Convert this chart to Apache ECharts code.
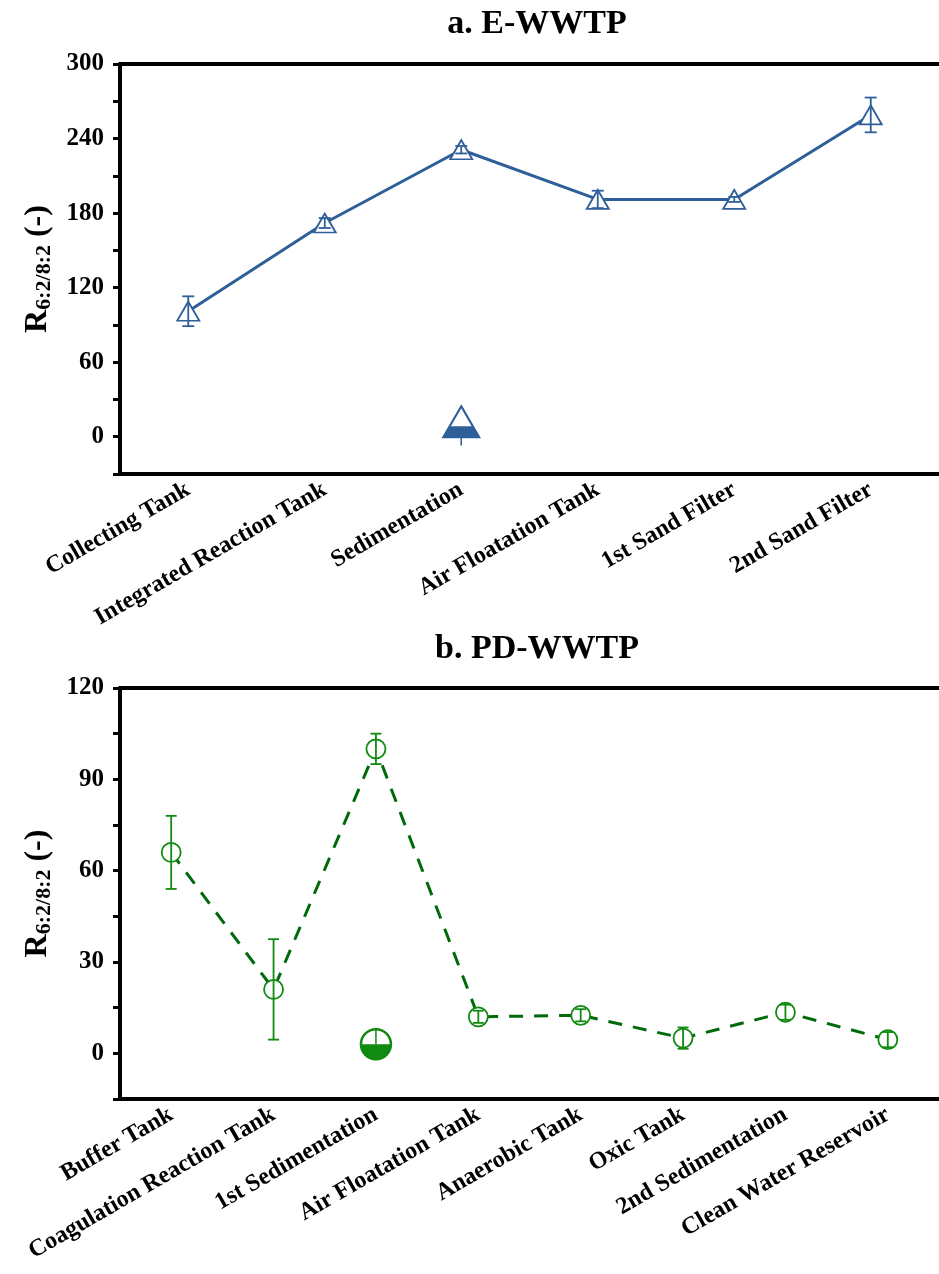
<!DOCTYPE html>
<html>
	<head>
		<meta charset="UTF-8">
		<title>R6:2/8:2</title>
		<script src="https://cdn.jsdelivr.net/npm/echarts@6/dist/echarts.min.js"></script>
		<style>
			html, body { margin: 0; padding: 0; background: #fff; }
			#main { width: 939px; height: 1274px; }
		</style>
	</head>
	<body>
		<div id="main"></div>
		<script>
			// a. E-WWTP
			var topCats = ['Collecting Tank', 'Integrated Reaction Tank', 'Sedimentation', 'Air Floatation Tank', '1st Sand Filter', '2nd Sand Filter'];
			var topMeans = [101, 172, 231, 191, 191, 259];
			var topErr = [12, 4, 3, 7, 2, 14];
			// odd half-filled triangle sitting near 0 under Sedimentation
			var topExtra = [2, 0];

			// b. PD-WWTP
			var botCats = ['Buffer Tank', 'Coagulation Reaction Tank', '1st Sedimentation', 'Air Floatation Tank', 'Anaerobic Tank', 'Oxic Tank', '2nd Sedimentation', 'Clean Water Reservoir'];
			var botMeans = [66, 21, 100, 12, 12.5, 5, 13.5, 4.5];
			var botErr = [12, 16.5, 5, 2, 2, 3.5, 2.5, 2.5];
			// half-filled circle under 1st Sedimentation
			var botExtra = [2, 3];

			var blue = '#2f5f98';
			var green = '#108a10';
			var darkGreen = '#006a0a';
			var font = 'Liberation Serif';

			var chart = echarts.init(document.getElementById('main'));

			function errRows(means, errs) {
				return means.map(function(m, i) { return [i, m - errs[i], m + errs[i]]; });
			}

			// 误差线
			function errRender(capW, color, lw, caps) {
				return function(params, api) {
					var i = api.value(0);
					var lo = api.coord([i, api.value(1)]);
					var hi = api.coord([i, api.value(2)]);
					var st = { stroke: color, lineWidth: lw };
					var kids = [{ type: 'line', shape: { x1: lo[0], y1: lo[1], x2: hi[0], y2: hi[1] }, style: st }];
					if (caps) {
						kids.push({ type: 'line', shape: { x1: hi[0] - capW / 2, y1: hi[1], x2: hi[0] + capW / 2, y2: hi[1] }, style: st });
						kids.push({ type: 'line', shape: { x1: lo[0] - capW / 2, y1: lo[1], x2: lo[0] + capW / 2, y2: lo[1] }, style: st });
					}
					return { type: 'group', children: kids };
				};
			}

			var axisTxt = { color: '#000', fontFamily: font, fontWeight: 'bold' };

			function xAx(gi, cats) {
				return {
					type: 'category', gridIndex: gi, data: cats, boundaryGap: true,
					axisLine: { onZero: false, lineStyle: { color: '#000', width: 4 } },
					axisTick: { alignWithLabel: true, length: 7, lineStyle: { width: 3, color: '#000' } },
					axisLabel: Object.assign({ rotate: 30, fontSize: 24, margin: 14, interval: 0 }, axisTxt)
				};
			}
			function frameAx(gi, cats) {
				return {
					type: 'category', gridIndex: gi, data: cats, position: 'top',
					axisLine: { onZero: false, lineStyle: { color: '#000', width: 4 } },
					axisTick: { show: false }, axisLabel: { show: false }
				};
			}
			function yAx(gi, min, max, step, major) {
				return {
					type: 'value', gridIndex: gi, min: min, max: max, interval: step,
					splitLine: { show: false },
					axisLine: { show: true, onZero: false, lineStyle: { color: '#000', width: 4 } },
					axisTick: { show: true, length: 7, lineStyle: { width: 3, color: '#000' } },
					axisLabel: Object.assign({
						fontSize: 25, margin: 16,
						formatter: function(v) { return v % major === 0 ? String(v) : ''; }
					}, axisTxt),
					name: '{r|R}{s|6:2/8:2}{r| (-)}',
					nameLocation: 'middle', nameRotate: 90, nameGap: 62,
					nameTextStyle: {
						rich: {
							r: { fontFamily: font, fontWeight: 'bold', fontSize: 32, color: '#000', lineHeight: 38 },
							s: { fontFamily: font, fontWeight: 'bold', fontSize: 22, color: '#000', lineHeight: 38, padding: [14, 0, 0, 0] }
						}
					}
				};
			}

			var option = {
				animation: false,
				backgroundColor: '#fff',
				title: [
					{ text: 'a. E-WWTP', left: 532, top: 2, textAlign: 'center',
					  textStyle: { fontFamily: font, fontWeight: 'bold', fontSize: 34, color: '#000' } },
					{ text: 'b. PD-WWTP', left: 532, top: 627, textAlign: 'center',
					  textStyle: { fontFamily: font, fontWeight: 'bold', fontSize: 34, color: '#000' } }
				],
				grid: [
					{ left: 120, top: 64, width: 825, height: 410 },
					{ left: 120, top: 688, width: 825, height: 411 }
				],
				xAxis: [xAx(0, topCats), frameAx(0, topCats), xAx(1, botCats), frameAx(1, botCats)],
				yAxis: [yAx(0, -30, 300, 30, 60), yAx(1, -15, 120, 15, 30)],
				series: [
					{
						type: 'line', xAxisIndex: 0, yAxisIndex: 0, data: topMeans,
						symbol: 'triangle', symbolSize: [22, 19],
						lineStyle: { color: blue, width: 3 },
						itemStyle: { color: '#fff', borderColor: blue, borderWidth: 1.8 },
						z: 2
					},
					{
						type: 'custom', xAxisIndex: 0, yAxisIndex: 0, data: errRows(topMeans, topErr),
						renderItem: errRender(12, blue, 1.8, true), z: 5
					},
					// 半填充三角
					{
						type: 'scatter', xAxisIndex: 0, yAxisIndex: 0, data: [topExtra],
						symbol: 'triangle', symbolSize: [36, 31], symbolOffset: [0, -15],
						itemStyle: { color: '#fff', borderColor: blue, borderWidth: 2, opacity: 1 }, z: 3
					},
					{
						type: 'scatter', xAxisIndex: 0, yAxisIndex: 0, data: [topExtra],
						symbol: 'path://M6.5,0 L29.5,0 L36,11 L0,11 Z', symbolSize: [36, 11], symbolOffset: [0, -5],
						itemStyle: { color: blue, opacity: 1 }, z: 4
					},
					{
						type: 'custom', xAxisIndex: 0, yAxisIndex: 0, data: [[topExtra[0], topExtra[1] - 7, topExtra[1]]],
						renderItem: errRender(0, blue, 1.5, false), z: 5
					},
					{
						type: 'line', xAxisIndex: 2, yAxisIndex: 1, data: botMeans,
						symbol: 'circle', symbolSize: 19,
						lineStyle: { color: darkGreen, width: 3, type: [14, 11] },
						itemStyle: { color: '#fff', borderColor: green, borderWidth: 1.8 },
						z: 2
					},
					{
						type: 'custom', xAxisIndex: 2, yAxisIndex: 1, data: errRows(botMeans, botErr),
						renderItem: errRender(11, green, 1.8, true), z: 5
					},
					// 半填充圆
					{
						type: 'scatter', xAxisIndex: 2, yAxisIndex: 1, data: [botExtra],
						symbol: 'circle', symbolSize: 30,
						itemStyle: { color: '#fff', borderColor: green, borderWidth: 2.5, opacity: 1 }, z: 3
					},
					{
						type: 'scatter', xAxisIndex: 2, yAxisIndex: 1, data: [botExtra],
						symbol: 'path://M0,0 C0,5.52 4.48,10 10,10 C15.52,10 20,5.52 20,0 Z', symbolSize: [30, 15],
						symbolOffset: [0, 7.5],
						itemStyle: { color: green, opacity: 1 }, z: 4
					},
					{
						type: 'custom', xAxisIndex: 2, yAxisIndex: 1, data: [[botExtra[0], botExtra[1], botExtra[1] + 4.8]],
						renderItem: errRender(0, green, 1.5, false), z: 5
					}
				]
			};

			chart.setOption(option);
		</script>
	</body>
</html>
